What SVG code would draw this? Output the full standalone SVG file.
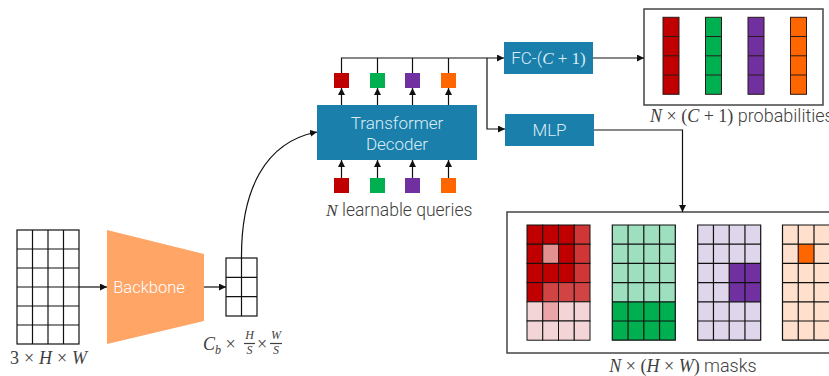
<svg xmlns="http://www.w3.org/2000/svg" width="829" height="376" viewBox="0 0 829 376">
<style>
.t{font-family:Roboto,"Liberation Sans",sans-serif;font-weight:300;fill:#404040}
.mm{font-family:"Liberation Serif","DejaVu Serif",serif;font-weight:400;fill:#404040}
.m{font-family:"Liberation Serif","DejaVu Serif",serif;font-style:italic}
.mn{font-family:"Liberation Serif","DejaVu Serif",serif;font-style:normal}
.grid{fill:none;stroke:#111;stroke-width:1.2}
.cell{stroke:#111;stroke-width:1}
.box{fill:#1a7fab}
.bt{font-family:Roboto,"Liberation Sans",sans-serif;font-weight:300;fill:#dcedf5;font-size:17px}
.ln{fill:none;stroke:#111;stroke-width:1.2}
.frame{fill:#fff;stroke:#444;stroke-width:1.5}
.bar{stroke:#2a1a1a;stroke-width:1}
</style>
<defs>
<marker id="ah" viewBox="0 0 10 10" refX="10" refY="5" markerWidth="7" markerHeight="7" markerUnits="userSpaceOnUse" orient="auto">
<path d="M0,0 L10,5 L0,10 z" fill="#111"/>
</marker>
</defs>

<g id="input-image">
<rect x="17" y="230" width="62" height="114" fill="#fff" class="grid"/>
<path class="grid" d="M32.5,230V344M48,230V344M63.5,230V344M17,249H79M17,268H79M17,287H79M17,306H79M17,325H79"/>
<text class="mm" x="10" y="364" font-size="18" textLength="77" lengthAdjust="spacing">3 × <tspan class="m">H</tspan> × <tspan class="m">W</tspan></text>
</g>

<g id="backbone">
<polygon points="107,230 204,254 204,321 107,344" fill="#ffa566"/>
<text x="149" y="293" font-family="Roboto,'Liberation Sans',sans-serif" font-weight="300" font-size="16.5" fill="#fff" text-anchor="middle">Backbone</text>
</g>

<g id="features">
<rect x="226" y="258" width="31" height="58" fill="#fff" class="grid"/>
<path class="grid" d="M241.5,258V316M226,277.3H257M226,296.6H257"/>
<text class="mm" x="203" y="350" font-size="18"><tspan class="m">C</tspan><tspan class="m" font-size="12" dy="4">b</tspan><tspan dy="-4"> ×</tspan></text>
<text class="mm m" x="249.5" y="339" font-size="12" text-anchor="middle">H</text>
<line x1="244" y1="343.5" x2="255" y2="343.5" stroke="#404040" stroke-width="1.2"/>
<text class="mm m" x="249.5" y="354" font-size="12" text-anchor="middle">S</text>
<text class="mm" x="257" y="350" font-size="18">×</text>
<text class="mm m" x="276" y="339" font-size="12" text-anchor="middle">W</text>
<line x1="270" y1="343.5" x2="282" y2="343.5" stroke="#404040" stroke-width="1.2"/>
<text class="mm m" x="276" y="354" font-size="12" text-anchor="middle">S</text>
</g>

<g id="transformer-decoder">
<rect class="box" x="317" y="105" width="160" height="55"/>
<text class="bt" x="397" y="129" text-anchor="middle">Transformer</text>
<text class="bt" x="397" y="150" text-anchor="middle">Decoder</text>
</g>

<g id="output-queries">
<rect x="334" y="73" width="15" height="15" fill="#c00000"/>
<rect x="370" y="73" width="15" height="15" fill="#00b050"/>
<rect x="405" y="73" width="15" height="15" fill="#7030a0"/>
<rect x="441" y="73" width="15" height="15" fill="#ff6600"/>
</g>

<g id="learnable-queries">
<rect x="334" y="178" width="15" height="15" fill="#c00000"/>
<rect x="370" y="178" width="15" height="15" fill="#00b050"/>
<rect x="405" y="178" width="15" height="15" fill="#7030a0"/>
<rect x="441" y="178" width="15" height="15" fill="#ff6600"/>
<text class="t" x="326" y="216" font-size="17.5"><tspan class="mm m">N</tspan> learnable queries</text>
</g>

<g id="fc">
<rect class="box" x="504" y="42" width="89" height="32"/>
<text class="bt" x="548.5" y="64" text-anchor="middle">FC-(<tspan class="m">C</tspan><tspan class="mn"> + 1)</tspan></text>
</g>

<g id="mlp">
<rect class="box" x="505" y="114" width="89" height="32"/>
<text class="bt" x="549.5" y="136" text-anchor="middle">MLP</text>
</g>

<g id="probabilities">
<rect class="frame" x="644" y="9" width="179" height="96"/>
<g class="bar">
<rect x="663" y="17.3" width="16" height="77" fill="#c00000"/>
<rect x="705.5" y="17.3" width="16" height="77" fill="#00b050"/>
<rect x="748" y="17.3" width="16" height="77" fill="#7030a0"/>
<rect x="790.5" y="17.3" width="16" height="77" fill="#ff6600"/>
</g>
<path stroke="#2a1a1a" stroke-width="1" d="M663,36.5H679M663,55.8H679M663,75H679M705.5,36.5H721.5M705.5,55.8H721.5M705.5,75H721.5M748,36.5H764M748,55.8H764M748,75H764M790.5,36.5H806.5M790.5,55.8H806.5M790.5,75H806.5"/>
<text class="t" x="650" y="122" font-size="18"><tspan class="mm">
<tspan class="m">N</tspan> × (<tspan class="m">C</tspan> + 1)</tspan> probabilities</text>
</g>

<g id="masks">
<rect class="frame" x="507" y="212" width="340" height="141"/>
<g class="cell">
<rect x="527" y="225" width="15.75" height="19.2" fill="#c00000"/>
<rect x="542.75" y="225" width="15.75" height="19.2" fill="#c00000"/>
<rect x="558.5" y="225" width="15.75" height="19.2" fill="#c00000"/>
<rect x="574.25" y="225" width="15.75" height="19.2" fill="#d03636"/>
<rect x="527" y="244.2" width="15.75" height="19.2" fill="#c00000"/>
<rect x="542.75" y="244.2" width="15.75" height="19.2" fill="#e29090"/>
<rect x="558.5" y="244.2" width="15.75" height="19.2" fill="#c00000"/>
<rect x="574.25" y="244.2" width="15.75" height="19.2" fill="#d03636"/>
<rect x="527" y="263.4" width="15.75" height="19.2" fill="#c00000"/>
<rect x="542.75" y="263.4" width="15.75" height="19.2" fill="#c00000"/>
<rect x="558.5" y="263.4" width="15.75" height="19.2" fill="#c00000"/>
<rect x="574.25" y="263.4" width="15.75" height="19.2" fill="#d03636"/>
<rect x="527" y="282.6" width="15.75" height="19.2" fill="#c00000"/>
<rect x="542.75" y="282.6" width="15.75" height="19.2" fill="#d04444"/>
<rect x="558.5" y="282.6" width="15.75" height="19.2" fill="#d04444"/>
<rect x="574.25" y="282.6" width="15.75" height="19.2" fill="#d04444"/>
<rect x="527" y="301.8" width="15.75" height="19.2" fill="#f3d5d7"/>
<rect x="542.75" y="301.8" width="15.75" height="19.2" fill="#e9a5a7"/>
<rect x="558.5" y="301.8" width="15.75" height="19.2" fill="#f3d5d7"/>
<rect x="574.25" y="301.8" width="15.75" height="19.2" fill="#f3d5d7"/>
<rect x="527" y="321" width="15.75" height="19.2" fill="#f3d5d7"/>
<rect x="542.75" y="321" width="15.75" height="19.2" fill="#f3d5d7"/>
<rect x="558.5" y="321" width="15.75" height="19.2" fill="#f3d5d7"/>
<rect x="574.25" y="321" width="15.75" height="19.2" fill="#f3d5d7"/>
</g>
<rect x="612.3" y="225" width="63" height="76.8" fill="#9ddfbe"/>
<rect x="612.3" y="301.8" width="63" height="38.4" fill="#00b050"/>
<path class="grid" d="M612.3,225h63v115.2h-63zM628.05,225V340.2M643.8,225V340.2M659.55,225V340.2M612.3,244.2h63M612.3,263.4h63M612.3,282.6h63M612.3,301.8h63M612.3,321h63"/>
<rect x="697.7" y="225" width="63" height="115.2" fill="#e0d6ec"/>
<rect x="729.2" y="263.4" width="31.5" height="38.4" fill="#7030a0"/>
<path class="grid" d="M697.7,225h63v115.2h-63zM713.45,225V340.2M729.2,225V340.2M744.95,225V340.2M697.7,244.2h63M697.7,263.4h63M697.7,282.6h63M697.7,301.8h63M697.7,321h63"/>
<rect x="782.5" y="225" width="63" height="115.2" fill="#ffe0cc"/>
<rect x="798.25" y="244.2" width="15.75" height="19.2" fill="#ff6600"/>
<path class="grid" d="M782.5,225h63v115.2h-63zM798.25,225V340.2M814,225V340.2M829.75,225V340.2M782.5,244.2h63M782.5,263.4h63M782.5,282.6h63M782.5,301.8h63M782.5,321h63"/>
<text class="t" x="683" y="372" font-size="18" text-anchor="middle"><tspan class="mm"><tspan class="m">N</tspan> × (<tspan class="m">H</tspan> × <tspan class="m">W</tspan>)</tspan> masks</text>
</g>

<g id="connectors">
<path class="ln" d="M79,287H107" marker-end="url(#ah)"/>
<path class="ln" d="M204,287H226" marker-end="url(#ah)"/>
<path class="ln" d="M241.5,258C241,190 265,142 317,132" marker-end="url(#ah)"/>
<path class="ln" d="M341.5,105V88" marker-end="url(#ah)"/>
<path class="ln" d="M377.5,105V88" marker-end="url(#ah)"/>
<path class="ln" d="M412.5,105V88" marker-end="url(#ah)"/>
<path class="ln" d="M448.5,105V88" marker-end="url(#ah)"/>
<path class="ln" d="M341.5,178V160" marker-end="url(#ah)"/>
<path class="ln" d="M377.5,178V160" marker-end="url(#ah)"/>
<path class="ln" d="M412.5,178V160" marker-end="url(#ah)"/>
<path class="ln" d="M448.5,178V160" marker-end="url(#ah)"/>
<path class="ln" d="M341.5,73V58H448.5M377.5,73V58M412.5,73V58M448.5,73V58"/>
<path class="ln" stroke-width="2" d="M448.5,58H504" marker-end="url(#ah)"/>
<path class="ln" d="M487,58V129H505" marker-end="url(#ah)"/>
<path class="ln" d="M593,58H644" marker-end="url(#ah)"/>
<path class="ln" d="M594,130H682.5V212" marker-end="url(#ah)"/>
</g>
</svg>
